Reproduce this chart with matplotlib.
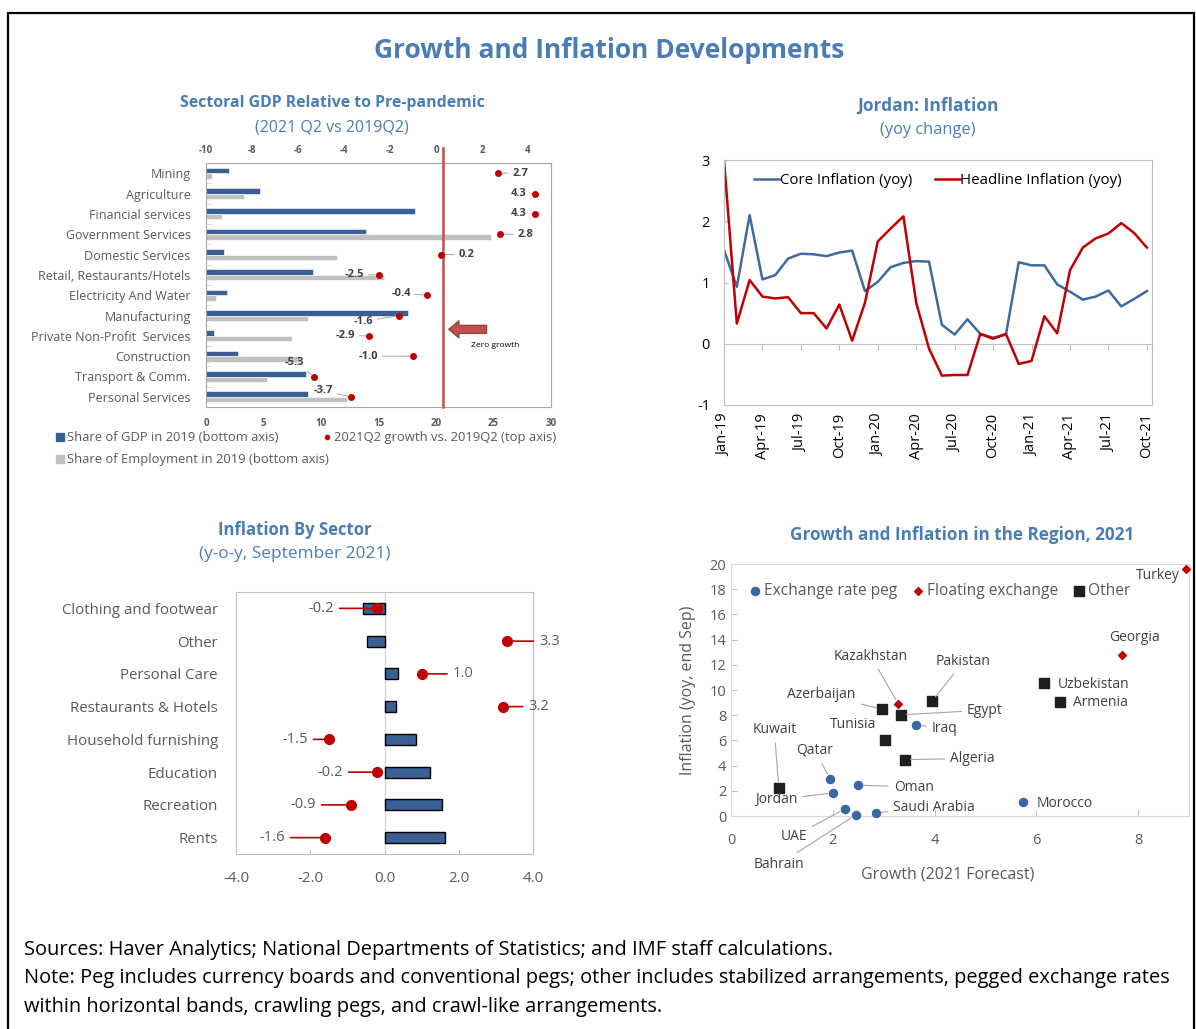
import matplotlib
matplotlib.use('Agg')
import matplotlib.pyplot as plt
from matplotlib.lines import Line2D
from matplotlib.patches import Rectangle, FancyArrow
import numpy as np

plt.rcParams['font.family'] = ['Open Sans', 'DejaVu Sans']
plt.rcParams['axes.unicode_minus'] = False

# ---- data: sectoral GDP (top left) ----
sectors = ['Mining', 'Agriculture', 'Financial services', 'Government Services',
           'Domestic Services', 'Retail, Restaurants/Hotels', 'Electricity And Water',
           'Manufacturing', 'Private Non-Profit  Services', 'Construction',
           'Transport & Comm.', 'Personal Services']
gdp_share = [2.0, 4.7, 18.2, 13.9, 1.6, 9.3, 1.85, 17.6, 0.7, 2.8, 8.7, 8.9]
emp_share = [0.5, 3.3, 1.4, 24.8, 11.4, 15.5, 0.9, 8.9, 7.5, 8.2, 5.3, 12.3]
growth_q2 = [2.7, 4.3, 4.3, 2.8, 0.2, -2.5, -0.4, -1.6, -2.9, -1.0, -5.3, -3.7]

# ---- data: Jordan inflation (top right), Jan-19 .. Oct-21 ----
core_infl = [1.53, 0.93, 2.10, 1.05, 1.12, 1.39, 1.47, 1.46, 1.43, 1.49, 1.52, 0.86,
             1.01, 1.25, 1.32, 1.35, 1.34, 0.31, 0.15, 0.40, 0.16, 0.10, 0.15, 1.33,
             1.28, 1.28, 0.97, 0.85, 0.72, 0.77, 0.87, 0.61, 0.73, 0.86]
headline_infl = [3.0, 0.33, 1.04, 0.77, 0.74, 0.76, 0.50, 0.50, 0.25, 0.64, 0.05, 0.67,
                 1.67, 1.88, 2.08, 0.67, -0.08, -0.52, -0.51, -0.51, 0.16, 0.08, 0.16, -0.33,
                 -0.28, 0.45, 0.17, 1.20, 1.57, 1.72, 1.80, 1.97, 1.81, 1.57]
month_ticks = ['Jan-19', 'Apr-19', 'Jul-19', 'Oct-19', 'Jan-20', 'Apr-20', 'Jul-20',
               'Oct-20', 'Jan-21', 'Apr-21', 'Jul-21', 'Oct-21']

# ---- data: inflation by sector (bottom left) ----
inf_sectors = ['Clothing and footwear', 'Other', 'Personal Care', 'Restaurants & Hotels',
               'Household furnishing', 'Education', 'Recreation', 'Rents']
inf_bars = [-0.57, -0.48, 0.37, 0.30, 0.86, 1.23, 1.54, 1.64]
inf_yoy = [-0.2, 3.3, 1.0, 3.2, -1.5, -0.2, -0.9, -1.6]

# ---- data: region scatter (bottom right) ----
countries = ['Qatar', 'Jordan', 'Oman', 'UAE', 'Bahrain', 'Saudi Arabia', 'Iraq', 'Morocco',
             'Kazakhstan', 'Georgia', 'Turkey',
             'Kuwait', 'Azerbaijan', 'Egypt', 'Tunisia', 'Pakistan', 'Algeria', 'Uzbekistan', 'Armenia']
growth21 = [1.95, 2.01, 2.49, 2.24, 2.45, 2.84, 3.64, 5.73,
            3.29, 7.69, 8.95,
            0.94, 2.97, 3.34, 3.02, 3.95, 3.42, 6.15, 6.46]
inflation21 = [2.93, 1.84, 2.45, 0.56, 0.08, 0.27, 7.23, 1.14,
               8.88, 12.74, 19.57,
               2.23, 8.48, 8.03, 6.06, 9.12, 4.47, 10.56, 9.02]
regime = ['peg'] * 8 + ['float'] * 3 + ['other'] * 8

# label placement for the scatter (text x, text y, alignment, leader line)
label_pos = {
    'Turkey': (8.38, 19.12, 'center', False), 'Georgia': (7.92, 14.15, 'center', False),
    'Kazakhstan': (2.75, 12.66, 'center', True), 'Pakistan': (4.57, 12.26, 'center', True),
    'Azerbaijan': (1.78, 9.63, 'center', True), 'Egypt': (4.64, 8.4, 'left', True),
    'Tunisia': (2.39, 7.23, 'center', False), 'Iraq': (3.95, 6.97, 'left', True),
    'Kuwait': (0.85, 6.84, 'center', True), 'Qatar': (1.65, 5.2, 'center', True),
    'Oman': (3.2, 2.3, 'left', True), 'Jordan': (0.89, 1.28, 'center', True),
    'Algeria': (4.31, 4.57, 'left', True), 'Uzbekistan': (6.42, 10.43, 'left', False),
    'Armenia': (6.73, 8.99, 'left', False), 'Morocco': (6.01, 1.01, 'left', False),
    'Saudi Arabia': (3.19, 0.64, 'left', True), 'UAE': (1.23, -1.62, 'center', True),
    'Bahrain': (0.94, -3.83, 'center', True),
}

W, H = 1196, 1029
def fx(px):
    return px / W
def fy(py):
    return 1 - py / H
def box(x0, y0, x1, y1):
    return [fx(x0), fy(y1), fx(x1) - fx(x0), fy(y0) - fy(y1)]

TITLE = '#4a7db4'
GRAY = '#595959'
DARK = '#404040'
SPINE = '#bfbfbf'
BARBLUE = '#3a5f94'
RED = '#c00000'

fig = plt.figure(figsize=(W / 100, H / 100), dpi=100)
fig.patches.append(Rectangle((fx(8), -0.05), fx(1194) - fx(8), fy(13) + 0.05,
                             transform=fig.transFigure, fill=False, ec='black', lw=1.6))

fig.text(fx(609), fy(50), 'Growth and Inflation Developments', ha='center', va='center',
         fontsize=19, fontweight='bold', color=TITLE)

# ================= top left =================
ax1 = fig.add_axes(box(206, 163, 551, 407))
y = np.arange(len(sectors))
ax1.barh(y - 0.135, gdp_share, height=0.27, color=BARBLUE, ec='white', lw=0.4)
ax1.barh(y + 0.135, emp_share, height=0.27, color='#c0c0c0', ec='white', lw=0.4)
ax1.set_xlim(0, 30)
ax1.set_ylim(len(sectors) - 0.5, -0.5)
ax1.set_yticks(y, sectors)
ax1.set_yticks(np.arange(len(sectors) + 1) - 0.5, minor=True)
ax1.tick_params(axis='y', which='major', length=0, labelsize=9, labelcolor=GRAY, pad=11)
ax1.tick_params(axis='y', which='minor', direction='in', length=4, color='#d9d9d9')
ax1.set_xticks(range(0, 31, 5))
ax1.tick_params(axis='x', length=0, labelsize=7, labelcolor=GRAY, pad=8)
for t in ax1.get_xticklabels():
    t.set_fontweight('bold')
for s in ax1.spines.values():
    s.set_color('#a6a6a6')

ax1.axvline(20.6, ymin=0, ymax=1.06, color='#c0504d', lw=1.8, clip_on=False, zorder=3)
ax1.add_patch(FancyArrow(24.4, 7.68, -3.3, 0, width=0.4, head_width=0.85, head_length=0.9,
                         length_includes_head=True, fc='#c0504d', ec='#8c3836', lw=0.8, zorder=4))
ax1.text(25.1, 8.47, 'Zero growth', fontsize=6, color='black', ha='center', va='center')

ax1b = ax1.twiny()
ax1b.set_xlim(-10, 5)
ax1b.set_xticks(range(-10, 5, 2))
ax1b.tick_params(axis='x', length=0, labelsize=7, labelcolor=GRAY, pad=5)
for t in ax1b.get_xticklabels():
    t.set_fontweight('bold')
for s in ax1b.spines.values():
    s.set_visible(False)
ax1b.plot(growth_q2, y, 'o', color=RED, ms=4, zorder=5)
tl_offsets = [(14, 0, 'left'), (-8, 0, 'right'), (-8, 0, 'right'), (17, 0, 'left'),
              (18, 0, 'left'), (-14, 0, 'right'), (-16, 2, 'right'), (-26, -6, 'right'),
              (-14, 0, 'right'), (-35, 0, 'right'), (-10, 14, 'right'), (-18, 6, 'right')]
for yi, v, (dx, dy, ha) in zip(y, growth_q2, tl_offsets):
    ax1b.annotate(f'{v:.1f}', (v, yi), xytext=(dx, dy), textcoords='offset pixels',
                  ha=ha, va='center', fontsize=8, fontweight='bold', color=DARK,
                  arrowprops=dict(arrowstyle='-', color='#a6a6a6', lw=0.7, shrinkA=1, shrinkB=2))

h_gdp = Line2D([], [], ls='', marker='s', ms=6, color=BARBLUE)
h_emp = Line2D([], [], ls='', marker='s', ms=6, color='#c0c0c0')
h_dot = Line2D([], [], ls='', marker='o', ms=3, color=RED)
fig.legend([h_gdp, h_dot], ['Share of GDP in 2019 (bottom axis)',
                            '2021Q2 growth vs. 2019Q2 (top axis)'],
           loc='center left', bbox_to_anchor=(fx(44), fy(438)), ncol=2, frameon=False,
           fontsize=9.4, handlelength=0.6, handletextpad=0.25, columnspacing=3.4,
           labelcolor=GRAY)
fig.legend([h_emp], ['Share of Employment in 2019 (bottom axis)'],
           loc='center left', bbox_to_anchor=(fx(44), fy(460)), frameon=False,
           fontsize=9.4, handlelength=0.6, handletextpad=0.25, labelcolor=GRAY)

fig.text(fx(332), fy(103), 'Sectoral GDP Relative to Pre-pandemic', ha='center', va='center',
         fontsize=11.4, fontweight='bold', color=TITLE)
fig.text(fx(332), fy(127), '(2021 Q2 vs 2019Q2)', ha='center', va='center',
         fontsize=11.5, color=TITLE)

# ================= top right =================
ax2 = fig.add_axes(box(724, 160, 1152, 405))
xm = np.arange(len(core_infl))
ax2.plot(xm, core_infl, color='#3d6aa1', lw=1.8, label='Core Inflation (yoy)')
ax2.plot(xm, headline_infl, color=RED, lw=1.8, label='Headline Inflation (yoy)')
ax2.set_xlim(0, 33.4)
ax2.set_ylim(-1, 3)
ax2.set_yticks([-1, 0, 1, 2, 3])
ax2.tick_params(axis='y', direction='in', length=3, color=SPINE, labelsize=10.5, pad=10)
ax2.set_xticks(range(0, len(core_infl), 3), month_ticks, rotation=90)
ax2.tick_params(axis='x', length=0, labelsize=10.5, pad=6)
for s in ax2.spines.values():
    s.set_color(SPINE)
zero_ax = ax2.secondary_xaxis(0.25)
zero_ax.set_xticks(range(0, len(core_infl), 3))
zero_ax.tick_params(axis='x', length=4, color=SPINE, labelbottom=False)
zero_ax.spines['bottom'].set_color(SPINE)
ax2.legend(loc='upper center', bbox_to_anchor=(0.5, 1.0), ncol=2, frameon=False, fontsize=10.8,
           handlelength=1.7, handletextpad=0.0, columnspacing=1.5)
fig.text(fx(928), fy(106), 'Jordan: Inflation', ha='center', va='center',
         fontsize=12.5, fontweight='bold', color=TITLE)
fig.text(fx(928), fy(130), '(yoy change)', ha='center', va='center',
         fontsize=11.8, color=TITLE)

# ================= bottom left =================
ax3 = fig.add_axes(box(236, 592, 533, 854))
yi3 = np.arange(len(inf_sectors))
ax3.barh(yi3, inf_bars, height=0.34, color=BARBLUE, ec='black', lw=1.0, zorder=2)
ax3.plot(inf_yoy, yi3, 'o', color=RED, ms=7, zorder=4)
ax3.axvline(0, color='#d9d9d9', lw=1, zorder=1)
ax3.set_xlim(-4, 4)
ax3.set_ylim(len(inf_sectors) - 0.5, -0.5)
ax3.set_xticks([-4, -2, 0, 2, 4], ['-4.0', '-2.0', '0.0', '2.0', '4.0'])
ax3.set_yticks(yi3, inf_sectors)
ax3.tick_params(axis='y', length=0, labelsize=10.8, labelcolor=GRAY, pad=13)
ax3.tick_params(axis='x', direction='in', length=3, color=SPINE, labelsize=10.8,
                labelcolor=GRAY, pad=12)
for s in ax3.spines.values():
    s.set_color(SPINE)
bl_offsets = [(-43, 'right'), (32, 'left'), (31, 'left'), (25, 'left'),
              (-21, 'right'), (-34, 'right'), (-35, 'right'), (-40, 'right')]
for yv, v, (dx, ha) in zip(yi3, inf_yoy, bl_offsets):
    ax3.annotate(f'{v:.1f}', (v, yv), xytext=(dx, 0), textcoords='offset pixels',
                 ha=ha, va='center', fontsize=10.5, color=GRAY, annotation_clip=False,
                 arrowprops=dict(arrowstyle='-', color=RED, lw=1.2, shrinkA=2, shrinkB=0))
fig.text(fx(295), fy(530), 'Inflation By Sector', ha='center', va='center',
         fontsize=12, fontweight='bold', color=TITLE)
fig.text(fx(295), fy(554), '(y-o-y, September 2021)', ha='center', va='center',
         fontsize=12.4, color=TITLE)

# ================= bottom right =================
ax4 = fig.add_axes(box(731, 564, 1189, 816))
styles = {'peg': dict(marker='o', s=34, color='#3a67a3', label='Exchange rate peg'),
          'float': dict(marker='D', s=16, color=RED, label='Floating exchange'),
          'other': dict(marker='s', s=46, color='#1e1e1e', label='Other')}
gx = np.array(growth21)
gy = np.array(inflation21)
rg = np.array(regime)
for key, st in styles.items():
    m = rg == key
    ax4.scatter(gx[m], gy[m], zorder=3, clip_on=False, **st)
for c, xv, yv in zip(countries, growth21, inflation21):
    tx, ty, ha, line = label_pos[c]
    ax4.annotate(c, (xv, yv), xytext=(tx, ty), textcoords='data', ha=ha, va='center',
                 fontsize=10, color=DARK, annotation_clip=False,
                 arrowprops=dict(arrowstyle='-', color='#a6a6a6', lw=0.8, shrinkA=2, shrinkB=4)
                 if line else None)
ax4.set_xlim(0, 9)
ax4.set_ylim(0, 20)
ax4.set_xticks([0, 2, 4, 6, 8])
ax4.set_yticks(range(0, 21, 2))
ax4.tick_params(direction='in', length=4, color=SPINE, labelsize=10.5, labelcolor=GRAY)
ax4.tick_params(axis='x', pad=12)
for s in ax4.spines.values():
    s.set_color('#d9d9d9')
ax4.set_xlabel('Growth (2021 Forecast)', fontsize=11.5, color=GRAY, labelpad=12)
ax4.xaxis.set_label_coords(0.474, -0.2)
ax4.set_ylabel('Inflation (yoy, end Sep)', fontsize=11.5, color=GRAY, labelpad=10)
ax4.legend(loc='upper left', bbox_to_anchor=(0.005, 0.98), ncol=3, frameon=False, fontsize=11.2,
           handletextpad=0.1, columnspacing=0.8, handlelength=1.0, labelcolor=GRAY)
fig.text(fx(962), fy(535), 'Growth and Inflation in the Region, 2021', ha='center', va='center',
         fontsize=12.3, fontweight='bold', color=TITLE)

# ================= footer =================
footer = ['Sources: Haver Analytics; National Departments of Statistics; and IMF staff calculations.',
          'Note: Peg includes currency boards and conventional pegs; other includes stabilized arrangements, pegged exchange rates',
          'within horizontal bands, crawling pegs, and crawl-like arrangements.']
for i, line in enumerate(footer):
    fig.text(fx(24), fy(950 + 28.5 * i), line, ha='left', va='center', fontsize=14.45, color='black')

fig.savefig('out.png', dpi=100)
